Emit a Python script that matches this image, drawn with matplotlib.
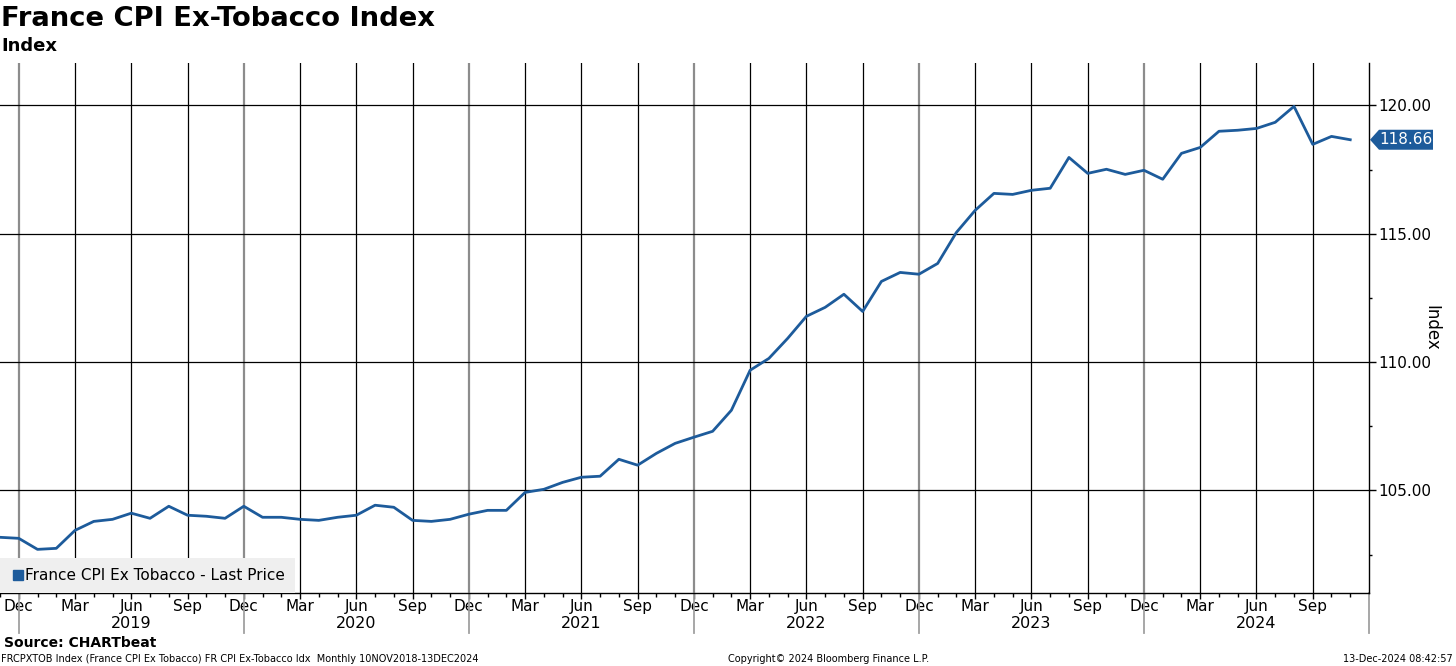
import matplotlib.pyplot as plt
import matplotlib.transforms as mtransforms
from matplotlib.lines import Line2D
from matplotlib.patches import Polygon
import pandas as pd

# monthly France CPI ex-tobacco, Nov 2018 .. Nov 2024
months = pd.period_range("2018-11", "2024-11", freq="M")
cpi = [103.17, 103.13, 102.70, 102.74, 103.44, 103.79, 103.87, 104.11, 103.91, 104.38,
       104.03, 103.99, 103.91, 104.38, 103.95, 103.95, 103.87, 103.83, 103.95, 104.03,
       104.42, 104.34, 103.83, 103.79, 103.87, 104.07, 104.22, 104.22, 104.92, 105.04,
       105.31, 105.51, 105.55, 106.21, 105.98, 106.44, 106.83, 107.07, 107.30, 108.12,
       109.68, 110.14, 110.92, 111.78, 112.13, 112.64, 111.97, 113.14, 113.49, 113.42,
       113.84, 115.05, 115.91, 116.57, 116.53, 116.69, 116.77, 117.97, 117.35, 117.51,
       117.31, 117.47, 117.12, 118.13, 118.36, 118.99, 119.03, 119.10, 119.34, 119.96,
       118.48, 118.79, 118.66]
yticks = [105, 110, 115, 120]
years = [2019, 2020, 2021, 2022, 2023, 2024]

blue = "#1d5b9b"
x = list(range(len(cpi)))

fig = plt.figure(figsize=(14.56, 6.66), dpi=100)
ax = fig.add_axes([0, 73 / 666, 1369 / 1456, 530 / 666])

ax.set_xlim(0, 73)
ax.set_ylim(101.0, 121.65)

# grid: quarters black, December (year boundary) grey
for i, m in enumerate(months):
    if m.month == 12:
        ax.axvline(i, color="#8c8c8c", lw=1.6, zorder=1)
    elif m.month in (3, 6, 9):
        ax.axvline(i, color="black", lw=0.9, zorder=1)
for v in yticks:
    ax.axhline(v, color="black", lw=0.9, zorder=1)

ax.plot(x, cpi, color=blue, lw=2, zorder=3)

for s in ["top", "left"]:
    ax.spines[s].set_visible(False)
ax.spines["bottom"].set_linewidth(1)
ax.spines["right"].set_linewidth(1)

ax.yaxis.tick_right()
ax.yaxis.set_label_position("right")
ax.set_yticks(yticks)
ax.set_yticklabels([f"{v:.2f}" for v in yticks])
ax.set_yticks([102.5, 107.5, 112.5, 117.5], minor=True)
ax.tick_params(axis="y", which="major", length=5, width=1, labelsize=11, pad=2)
ax.tick_params(axis="y", which="minor", length=2, width=1)
ax.set_ylabel("Index", fontsize=12, rotation=-90, labelpad=6)

qidx = [i for i, m in enumerate(months) if m.month in (3, 6, 9, 12)]
ax.set_xticks(qidx)
ax.set_xticklabels([months[i].strftime("%b") for i in qidx])
ax.set_xticks(x, minor=True)
ax.tick_params(axis="x", which="major", length=4, width=1, labelsize=11, pad=0)
ax.tick_params(axis="x", which="minor", length=3, width=1)

trans = mtransforms.blended_transform_factory(ax.transData, ax.transAxes)
for yr in years:
    jun = [i for i, m in enumerate(months) if m.year == yr and m.month == 6][0]
    ax.text(jun, -0.057, str(yr), transform=trans, ha="center", va="center",
            fontsize=11.5, clip_on=False)
for i, m in enumerate(months):
    if m.month == 12:
        ax.add_line(Line2D([i, i], [0, -0.075], transform=trans, color="#a0a0a0",
                           lw=1.3, clip_on=False))
ax.add_line(Line2D([73, 73], [0, -0.075], transform=trans, color="#a0a0a0",
                   lw=1.3, clip_on=False))

leg = ax.legend([Line2D([], [], marker="s", ls="", color=blue, markersize=7)],
                ["France CPI Ex Tobacco - Last Price"], loc="lower left",
                borderaxespad=0, fontsize=11, frameon=True, fancybox=False,
                handletextpad=0.0, handlelength=1.0, borderpad=0.65)
leg.get_frame().set_facecolor("#efefef")
leg.get_frame().set_edgecolor("none")
leg.get_frame().set_alpha(1)

# last price tag
fig.canvas.draw()
px, py = ax.transData.transform((73, cpi[-1]))
tag = Polygon([(px + 1, py), (px + 10, py + 10), (px + 64, py + 10), (px + 64, py - 10),
               (px + 10, py - 10)], closed=True, transform=mtransforms.IdentityTransform(),
              facecolor=blue, edgecolor="none", clip_on=False)
fig.add_artist(tag)
fig.text((px + 37) / 1456, py / 666, f"{cpi[-1]:.2f}", color="white", fontsize=11,
         ha="center", va="center")

fig.text(0.001, 0.972, "France CPI Ex-Tobacco Index", fontsize=19.7, fontweight="bold",
         va="center", ha="left")
fig.text(0.001, 0.931, "Index", fontsize=13, fontweight="bold", va="center", ha="left")
fig.text(0.003, 0.035, "Source: CHARTbeat", fontsize=10, fontweight="bold", va="center")
fig.text(0.001, 0.011, "FRCPXTOB Index (France CPI Ex Tobacco) FR CPI Ex-Tobacco Idx  "
         "Monthly 10NOV2018-13DEC2024", fontsize=7, va="center")
fig.text(0.638, 0.011, "Copyright\u00a9 2024 Bloomberg Finance L.P.", fontsize=7,
         va="center", ha="right")
fig.text(0.998, 0.011, "13-Dec-2024 08:42:57", fontsize=7, va="center", ha="right")

fig.savefig("out.png", dpi=100)
